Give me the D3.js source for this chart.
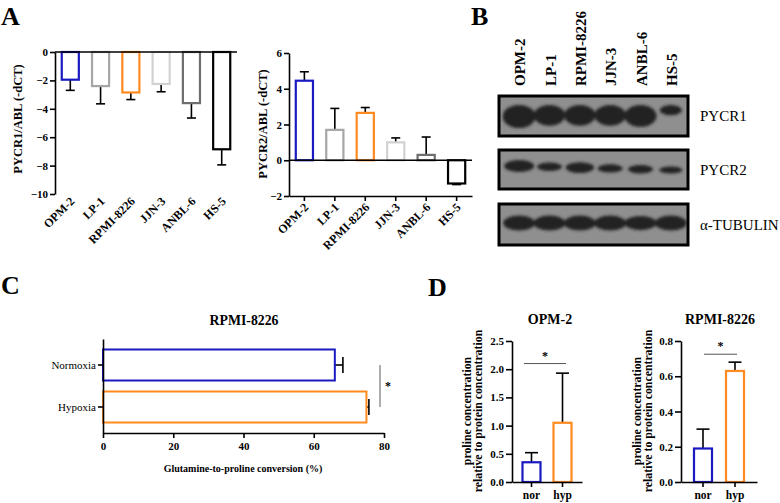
<!DOCTYPE html>
<html><head><meta charset="utf-8">
<script src="https://cdn.jsdelivr.net/npm/d3@7"></script>
<style>
body{margin:0;background:#fff}
svg{display:block;font-family:"Liberation Serif","Times New Roman",serif}
</style>
</head><body>
<svg id="fig" width="780" height="503"></svg>
<script>
// ---------------- DATA ----------------
const cellLines = ["OPM-2", "LP-1", "RPMI-8226", "JJN-3", "ANBL-6", "HS-5"];
const cellColors = ["#1a1ac0", "#a6a6a6", "#ff8a1e", "#d2d2d2", "#6e6e6e", "#000000"];
const pycr1Mean = [-1.95, -2.4, -2.85, -2.25, -3.6, -6.85];
const pycr1Sd   = [0.75, 1.25, 0.5, 0.55, 1.05, 1.1];
const pycr1Ticks = [0, -2, -4, -6, -8, -10];
const pycr2Mean = [4.45, 1.7, 2.65, 1.0, 0.3, -1.3];
const pycr2Sd   = [0.5, 1.2, 0.3, 0.25, 1.0, 0.06];
const pycr2Ticks = [6, 4, 2, 0, -2];

const blotRows = ["PYCR1", "PYCR2", "α-TUBULIN"];
const pycr1Band = [1.0, 0.9, 0.9, 0.9, 0.95, 0.45];
const pycr2Band = [1.0, 0.7, 0.9, 0.7, 0.7, 0.6];
const tubulinBand = [1.0, 1.0, 1.0, 1.0, 0.95, 1.0];

const conditions = ["Normoxia", "Hypoxia"];
const conversion = [66, 75];
const conversionSd = [2.3, 0.7];
const conversionTicks = [0, 20, 40, 60, 80];

const groups = ["nor", "hyp"];
const groupColors = ["#1a1ac0", "#ff8a1e"];
const opm2Proline = [0.35, 1.05];
const opm2Sd = [0.17, 0.88];
const opm2Ticks = [0.0, 0.5, 1.0, 1.5, 2.0, 2.5];
const rpmiProline = [0.19, 0.63];
const rpmiSd = [0.11, 0.05];
const rpmiTicks = [0.0, 0.2, 0.4, 0.6, 0.8];

// ---------------- HELPERS ----------------
const svg = d3.select("#fig");
const defs = svg.append("defs");
defs.append("filter").attr("id", "blur").attr("x", "-30%").attr("y", "-60%").attr("width", "160%").attr("height", "220%")
  .append("feGaussianBlur").attr("stdDeviation", 1.6);

function styleAxis(g, size, weight) {
  g.selectAll(".domain").attr("stroke", "#000").attr("stroke-width", 1.6);
  g.selectAll(".tick line").attr("stroke", "#000").attr("stroke-width", 1.6);
  g.selectAll(".tick text").attr("fill", "#000")
    .style("font-size", size + "px").style("font-weight", weight || "bold")
    .style("font-family", '"Liberation Serif",serif');
}

function panelLetter(txt, x, y) {
  svg.append("text").attr("x", x).attr("y", y).text(txt)
    .style("font-size", "26px").style("font-weight", "bold");
}

function vBarChart(o) {
  const g = svg.append("g");
  const x = d3.scaleBand().domain(o.cats).range(o.xr).paddingInner(o.pi).paddingOuter(o.po);
  const y = d3.scaleLinear().domain(o.dom).range(o.yr);
  o.cats.forEach((c, i) => {
    const v = o.vals[i], sd = o.sds[i];
    const x0 = x(c), bw = x.bandwidth(), xc = x0 + bw / 2;
    const sgn = v >= 0 ? 1 : -1;
    g.append("line").attr("x1", xc).attr("x2", xc).attr("y1", y(v)).attr("y2", y(v + sgn * sd))
      .attr("stroke", "#000").attr("stroke-width", 1.6);
    g.append("line").attr("x1", xc - o.cap / 2).attr("x2", xc + o.cap / 2)
      .attr("y1", y(v + sgn * sd)).attr("y2", y(v + sgn * sd))
      .attr("stroke", "#000").attr("stroke-width", 1.6);
    g.append("rect").attr("x", x0 + 1).attr("width", bw - 2)
      .attr("y", Math.min(y(0), y(v))).attr("height", Math.abs(y(0) - y(v)))
      .attr("fill", "none").attr("stroke", o.colors[i]).attr("stroke-width", 2.2);
  });
  const ya = g.append("g").attr("transform", `translate(${o.xr[0]},0)`)
    .call(d3.axisLeft(y).tickValues(o.ticks).tickSize(5).tickSizeOuter(0).tickPadding(2).tickFormat(d3.format("")));
  styleAxis(ya, 11);
  g.append("line").attr("x1", o.xr[0]).attr("x2", o.xr[1]).attr("y1", y(0)).attr("y2", y(0))
    .attr("stroke", "#000").attr("stroke-width", 1.6);
  return {g, x, y};
}

// ---------------- PANEL A ----------------
panelLetter("A", 1, 25);

const a1 = vBarChart({cats: cellLines, vals: pycr1Mean, sds: pycr1Sd, colors: cellColors,
  xr: [55, 237], yr: [194, 52], dom: [-10, 0], pi: 0.37, po: 0.19, cap: 9, ticks: pycr1Ticks});
cellLines.forEach(c => {
  const xc = a1.x(c) + a1.x.bandwidth() / 2;
  a1.g.append("text").attr("transform", `translate(${xc + 5},${202}) rotate(-45)`)
    .attr("text-anchor", "end").text(c).style("font-size", "12px").style("font-weight", "bold");
});
a1.g.append("text").attr("transform", "translate(22,119) rotate(-90)").attr("text-anchor", "middle")
  .text("PYCR1/ABL (-dCT)").style("font-size", "12.5px").style("font-weight", "bold");

const a2 = vBarChart({cats: cellLines, vals: pycr2Mean, sds: pycr2Sd, colors: cellColors,
  xr: [289, 472], yr: [196, 53], dom: [-2, 6], pi: 0.37, po: 0.19, cap: 9, ticks: pycr2Ticks});
const a2b = a2.g.append("g").attr("transform", "translate(0,196)")
  .call(d3.axisBottom(a2.x).tickSize(5).tickSizeOuter(0).tickFormat(""));
styleAxis(a2b, 11);
cellLines.forEach(c => {
  const xc = a2.x(c) + a2.x.bandwidth() / 2;
  a2.g.append("text").attr("transform", `translate(${xc + 5},${208}) rotate(-45)`)
    .attr("text-anchor", "end").text(c).style("font-size", "12px").style("font-weight", "bold");
});
a2.g.append("text").attr("transform", "translate(267,124) rotate(-90)").attr("text-anchor", "middle")
  .text("PYCR2/ABL (-dCT)").style("font-size", "12.5px").style("font-weight", "bold");

// ---------------- PANEL B (western blot) ----------------
panelLetter("B", 471, 25);
const laneX = d3.scaleBand().domain(cellLines).range([504, 686]);
cellLines.forEach(c => {
  svg.append("text").attr("transform", `translate(${laneX(c) + laneX.bandwidth() / 2 + 1},86) rotate(-90)`)
    .attr("dy", "0.35em").text(c).style("font-size", "15px").style("font-weight", "bold");
});
const boxes = [{top: 96, bot: 136}, {top: 150, bot: 189}, {top: 204, bot: 245}];
const bands = [pycr1Band, pycr2Band, tubulinBand];
blotRows.forEach((r, ri) => {
  const b = boxes[ri];
  const bg = svg.append("g");
  bg.append("rect").attr("x", 499).attr("y", b.top).attr("width", 189).attr("height", b.bot - b.top)
    .attr("fill", "#8f8f8f");
  const bandG = bg.append("g").attr("filter", "url(#blur)");
  cellLines.forEach((c, li) => {
    const inten = bands[ri][li];
    const cx = laneX(c) + laneX.bandwidth() / 2;
    let h, cy, w;
    if (ri === 0) { h = 23 * inten; cy = b.top + 9 + h / 2; w = 33 * Math.sqrt(inten); }
    else if (ri === 1) { h = 12 * inten; cy = b.top + 16 + li * 0.8; w = 30 * Math.sqrt(inten); }
    else { h = 15 * inten; cy = b.top + 19; w = 32; }
    bandG.append("ellipse").attr("cx", cx).attr("cy", cy).attr("rx", w / 2).attr("ry", h / 2)
      .attr("fill", "#222");
  });
  bg.append("rect").attr("x", 499).attr("y", b.top).attr("width", 189).attr("height", b.bot - b.top)
    .attr("fill", "none").attr("stroke", "#000").attr("stroke-width", 3);
  svg.append("text").attr("x", 700).attr("y", (b.top + b.bot) / 2).attr("dy", "0.35em")
    .text(r).style("font-size", "15px");
});

// ---------------- PANEL C ----------------
panelLetter("C", 1, 294);
{
  const g = svg.append("g");
  const x = d3.scaleLinear().domain([0, 80]).range([103, 384]);
  const y = d3.scaleBand().domain(conditions).range([339, 433]).paddingInner(0.214).paddingOuter(0.226);
  const colC = ["#1a1ac0", "#ff8a1e"];
  conditions.forEach((c, i) => {
    const yc = y(c) + y.bandwidth() / 2;
    g.append("line").attr("x1", x(conversion[i])).attr("x2", x(conversion[i] + conversionSd[i]))
      .attr("y1", yc).attr("y2", yc).attr("stroke", "#000").attr("stroke-width", 1.6);
    g.append("line").attr("x1", x(conversion[i] + conversionSd[i])).attr("x2", x(conversion[i] + conversionSd[i]))
      .attr("y1", yc - 8).attr("y2", yc + 8).attr("stroke", "#000").attr("stroke-width", 1.6);
    g.append("rect").attr("x", x(0)).attr("width", x(conversion[i]) - x(0))
      .attr("y", y(c) + 1).attr("height", y.bandwidth() - 2)
      .attr("fill", "none").attr("stroke", colC[i]).attr("stroke-width", 2);
  });
  const xa = g.append("g").attr("transform", "translate(0,433)")
    .call(d3.axisBottom(x).tickValues(conversionTicks).tickSize(5).tickSizeOuter(0).tickPadding(4));
  styleAxis(xa, 11);
  const ya = g.append("g").attr("transform", "translate(103,0)")
    .call(d3.axisLeft(y).tickSize(5).tickSizeOuter(0).tickPadding(2));
  styleAxis(ya, 11, "normal");
  g.append("text").attr("x", 243).attr("y", 468).attr("dy", "0.35em").attr("text-anchor", "middle")
    .text("Glutamine-to-proline conversion (%)").style("font-size", "10px").style("font-weight", "bold");
  g.append("text").attr("x", 244).attr("y", 320).attr("dy", "0.35em").attr("text-anchor", "middle")
    .text("RPMI-8226").style("font-size", "13.8px").style("font-weight", "bold");
  g.append("line").attr("x1", 380).attr("x2", 380).attr("y1", y("Normoxia") + y.bandwidth() / 2)
    .attr("y2", y("Hypoxia") + y.bandwidth() / 2).attr("stroke", "#777").attr("stroke-width", 1.2);
  g.append("text").attr("x", 388).attr("y", 390).attr("text-anchor", "middle").text("*")
    .style("font-size", "12px").style("font-weight", "bold");
}

// ---------------- PANEL D ----------------
panelLetter("D", 428, 296);
function dChart(o) {
  const g = svg.append("g");
  const x = d3.scaleBand().domain(groups).range(o.xr).paddingInner(o.pi).paddingOuter(o.po);
  const y = d3.scaleLinear().domain(o.dom).range([482, 341]);
  groups.forEach((c, i) => {
    const xc = x(c) + x.bandwidth() / 2;
    const v = o.vals[i], sd = o.sds[i];
    g.append("line").attr("x1", xc).attr("x2", xc).attr("y1", y(v)).attr("y2", y(v + sd))
      .attr("stroke", "#000").attr("stroke-width", 1.6);
    g.append("line").attr("x1", xc - 6.5).attr("x2", xc + 6.5).attr("y1", y(v + sd)).attr("y2", y(v + sd))
      .attr("stroke", "#000").attr("stroke-width", 1.6);
    g.append("rect").attr("x", x(c) + 1).attr("width", x.bandwidth() - 2)
      .attr("y", y(v)).attr("height", y(0) - y(v))
      .attr("fill", "none").attr("stroke", groupColors[i]).attr("stroke-width", 2.2);
  });
  const ya = g.append("g").attr("transform", `translate(${o.xr[0]},0)`)
    .call(d3.axisLeft(y).tickValues(o.ticks).tickSize(6).tickSizeOuter(0).tickPadding(2).tickFormat(d3.format(".1f")));
  styleAxis(ya, 11);
  const xa = g.append("g").attr("transform", "translate(0,482)")
    .call(d3.axisBottom(x).tickSize(5).tickSizeOuter(0).tickPadding(4));
  styleAxis(xa, 11.5);
  g.append("text").attr("x", o.titleX).attr("y", 319).attr("dy", "0.35em").attr("text-anchor", "middle")
    .text(o.title).style("font-size", "14px").style("font-weight", "bold");
  const lab = g.append("text").attr("transform", `translate(${o.labX},411) rotate(-90)`).attr("text-anchor", "middle")
    .style("font-size", "11.8px").style("font-weight", "bold");
  lab.append("tspan").attr("x", 0).attr("dy", "0em").text("proline concentration");
  lab.append("tspan").attr("x", 0).attr("dy", "11").text("relative to protein concentration");
  g.append("line").attr("x1", o.sig[0]).attr("x2", o.sig[1]).attr("y1", y(o.sigY)).attr("y2", y(o.sigY))
    .attr("stroke", "#555").attr("stroke-width", 1);
  g.append("text").attr("x", (o.sig[0] + o.sig[1]) / 2).attr("y", y(o.sigY) - 4).attr("text-anchor", "middle")
    .text("*").style("font-size", "12px").style("font-weight", "bold");
}
dChart({xr: [512, 582], pi: 0.355, po: 0.306, dom: [0, 2.5], vals: opm2Proline, sds: opm2Sd,
  ticks: opm2Ticks, title: "OPM-2", titleX: 550, labX: 471, sig: [524, 566], sigY: 2.1});
dChart({xr: [681, 757], pi: 0.375, po: 0.375, dom: [0, 0.8], vals: rpmiProline, sds: rpmiSd,
  ticks: rpmiTicks, title: "RPMI-8226", titleX: 720, labX: 641, sig: [704, 737], sigY: 0.725});
</script>
</body></html>
